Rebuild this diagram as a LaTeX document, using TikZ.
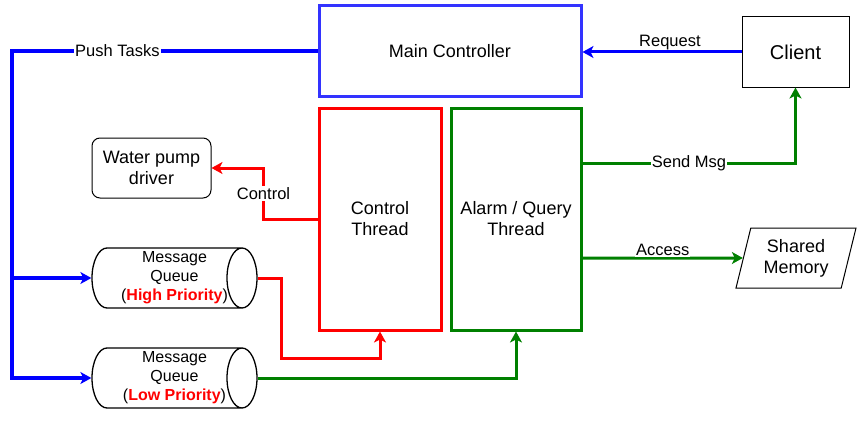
\documentclass[tikz,border=0pt]{standalone}
\usepackage{fontspec}
\setmainfont{Liberation Sans}
\usetikzlibrary{arrows.meta,shapes.geometric,calc}
\definecolor{mcblue}{HTML}{3333FF}
\definecolor{lineblue}{HTML}{0000FF}
\definecolor{thgreen}{HTML}{008000}
\begin{document}
\begin{tikzpicture}[x=1pt, y=-1pt, >={Stealth[length=11pt,width=12pt,inset=3pt]},
  box/.style={draw, rectangle, align=center, font=\fontsize{18}{21}\selectfont},
  queue/.style={draw, cylinder, shape aspect=0.5, line width=1.3pt, inner xsep=0pt, inner ysep=30pt, minimum width=60pt, minimum height=165pt, anchor=shape center},
  qtext/.style={align=center, font=\fontsize{16}{19}\selectfont},
  memory/.style={draw, trapezium, trapezium left angle=71.6, trapezium right angle=108.4, trapezium stretches body=true, line width=1pt, minimum width=120pt, minimum height=60pt, align=center, font=\fontsize{18}{21}\selectfont},
  lbl/.style={fill=white, inner sep=1pt, font=\fontsize{16.5}{19}\selectfont},
  link/.style={->, line width=3pt}]
\useasboundingbox (0,0) rectangle (861,420);
\node[box, draw=mcblue, line width=3pt, minimum width=262pt, minimum height=90pt] (main) at (450,51) {Main Controller};
\node[box, line width=1pt, minimum width=107pt, minimum height=70pt, font=\fontsize{20}{24}\selectfont] (client) at (795.5,52) {Client};
\node[box, draw=red, line width=3pt, minimum width=122pt, minimum height=222pt] (ctrl) at (380,219) {Control\\Thread};
\node[box, draw=thgreen, line width=3pt, minimum width=130pt, minimum height=222pt] (alarm) at (516,219) {Alarm / Query\\Thread};
\node[box, rounded corners=8pt, line width=1pt, minimum width=119pt, minimum height=60pt] (pump) at (151.5,168) {Water pump\\driver};
\node[queue] (mqhigh) at (174.5,278) {};
\node[qtext] (mqhightext) at (mqhigh.shape center) {Message\\Queue\\(\textcolor{red}{\textbf{High Priority}})};
\node[queue] (mqlow) at (174.5,378) {};
\node[qtext] (mqlowtext) at (mqlow.shape center) {Message\\Queue\\(\textcolor{red}{\textbf{Low Priority}})};
\node[memory] (shmem) at (796,258) {Shared\\Memory};
\coordinate (bustop) at (12,51);
\coordinate (busbot) at (12,378);
\draw[link, draw=lineblue, line width=4pt] (main.west) -- node[lbl, pos=0.655]{Push Tasks} (bustop) -- (busbot) -- (mqlow.west);
\draw[link, draw=lineblue, line width=4pt] (mqhigh.west -| bustop) -- (mqhigh.west);
\draw[link, draw=lineblue] (client.west) -- node[lbl, above, pos=0.45]{Request} (client.west -| main.east);
\draw[link, draw=red] (ctrl.west) -- ++(-54,0) |- node[lbl, pos=0.25]{Control} (pump.east);
\draw[link, draw=thgreen] ($(alarm.east)+(0,-56)$) -| node[lbl, pos=0.25]{Send Msg} (client.south);
\draw[link, draw=thgreen] ($(alarm.east)+(0,39)$) -- node[lbl, above]{Access} (shmem.west);
\draw[link, draw=red] (mqhigh.east) -- ++(24,0) -- ++(0,80) -| (ctrl.south);
\draw[link, draw=thgreen] (mqlow.east) -| (alarm.south);
\end{tikzpicture}
\end{document}
